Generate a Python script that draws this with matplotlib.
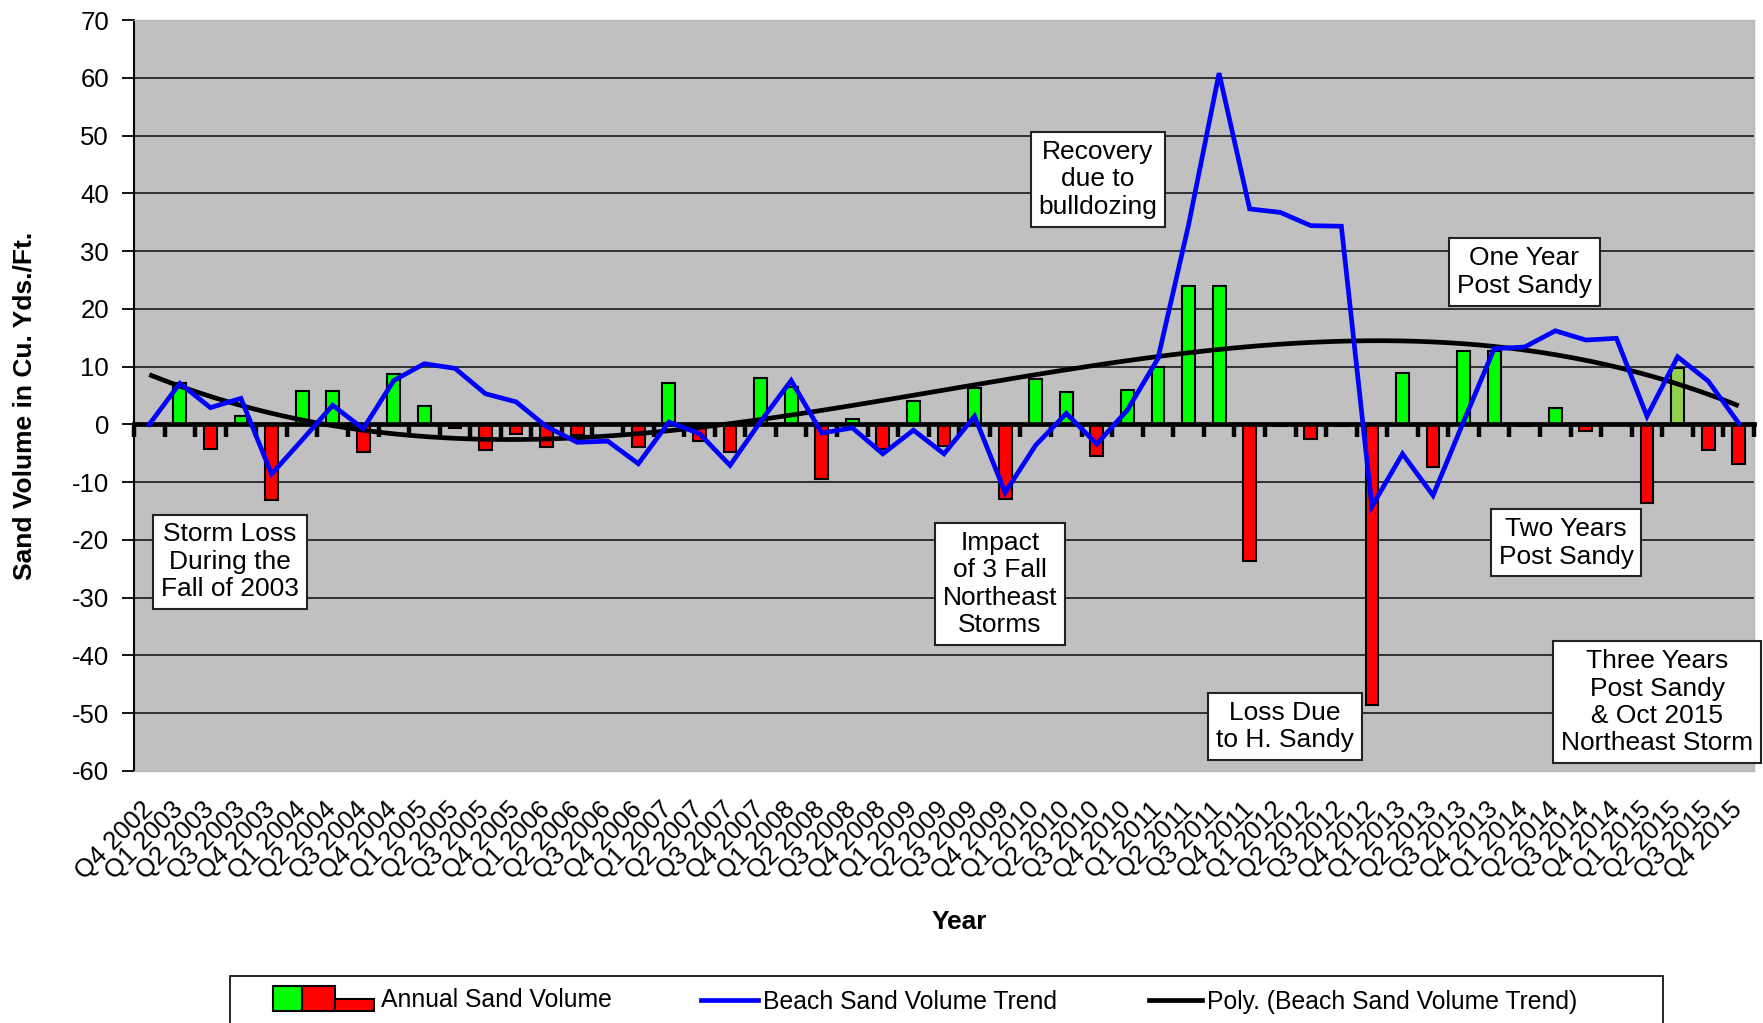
import matplotlib
matplotlib.use('Agg')
import matplotlib.pyplot as plt
import numpy as np
from matplotlib.patches import Rectangle
from matplotlib.lines import Line2D
from matplotlib.legend_handler import HandlerBase

plt.rcParams['font.family'] = ['Liberation Sans', 'DejaVu Sans']

# ---------------- data ----------------
quarters = ['Q4 2002'] + [f'Q{q} {y}' for y in range(2003, 2016) for q in range(1, 5)]

annual_sand_volume = [0, 7.2, -4.2, 1.4, -13.1, 5.8, 5.8, -4.7, 8.7, 3.1,
                      -0.6, -4.5, -1.6, -4.0, -1.9, 0, -3.9, 7.1, -2.9, -4.8,
                      8.0, 6.5, -9.4, 1.0, -4.2, 4.1, -3.8, 6.3, -12.9, 7.8,
                      5.6, -5.4, 5.9, 10.0, 24.0, 24.0, -23.6, -0.3, -2.5, -0.3,
                      -48.5, 8.9, -7.3, 12.7, 12.7, -0.3, 2.9, -1.2, 0, -13.6,
                      9.8, -4.5, -6.8]

beach_sand_volume_trend = [0, 7.1, 2.9, 4.5, -8.6, -2.7, 3.3, -0.75, 7.6, 10.5,
                           9.7, 5.3, 3.9, -0.4, -3.1, -2.9, -6.8, 0.4, -1.6, -7.1,
                           0.5, 7.6, -1.5, -0.6, -5.1, -1.0, -5.1, 1.4, -11.8, -3.6,
                           1.9, -3.4, 2.5, 11.4, 34.5, 60.8, 37.3, 36.7, 34.4, 34.3,
                           -14.2, -5.1, -12.3, 0.5, 13.1, 13.4, 16.2, 14.6, 14.9, 1.4,
                           11.7, 7.5, 0.2]

highlight_quarter = 'Q2 2015'
poly_order = 3

y_ticks = list(range(-60, 71, 10))

annotations = [
    ('Storm Loss\nDuring the\nFall of 2003', 2.64, -23.8),
    ('Recovery\ndue to\nbulldozing', 31.04, 42.4),
    ('One Year\nPost Sandy', 44.98, 26.4),
    ('Impact\nof 3 Fall\nNortheast\nStorms', 27.83, -27.6),
    ('Loss Due\nto H. Sandy', 37.16, -52.3),
    ('Two Years\nPost Sandy', 46.35, -20.5),
    ('Three Years\nPost Sandy\n& Oct 2015\nNortheast Storm', 49.33, -48.1),
]

# ---------------- figure ----------------
W, H = 1763, 1023
fig = plt.figure(figsize=(W / 100, H / 100), dpi=100)
ax = fig.add_axes([134 / W, 1 - 771 / H, 1620 / W, 751 / H])
ax.set_facecolor('#C0C0C0')

x = np.arange(len(quarters))
GREEN, RED, LGREEN = '#00FF00', '#FF0000', '#92D050'
colors = [GREEN if v >= 0 else RED for v in annual_sand_volume]
colors[quarters.index(highlight_quarter)] = LGREEN

ax.bar(x, annual_sand_volume, width=0.42, color=colors, edgecolor='black',
       linewidth=1.5, zorder=2)

coef = np.polyfit(x, beach_sand_volume_trend, poly_order)
xf = np.linspace(0, len(quarters) - 1, 300)
ax.plot(xf, np.polyval(coef, xf), color='black', lw=3.4, zorder=3,
        solid_capstyle='butt')
ax.plot(x, beach_sand_volume_trend, color='#0000FF', lw=3.4, zorder=4,
        solid_joinstyle='miter')

ymin, ymax = -60, 70
ax.set_xlim(-0.5, len(quarters) - 0.5)
ax.set_ylim(ymin, ymax)
ax.set_yticks(y_ticks)
ax.set_yticklabels([str(t) for t in y_ticks], fontsize=18.5)
ax.tick_params(axis='y', direction='out', length=9, width=1.3, pad=9,
               colors='black')

ax.set_xticks(x)
ax.set_xticklabels(quarters, rotation=45, ha='right', va='center',
                   rotation_mode='anchor', fontsize=18.5)
ax.tick_params(axis='x', length=0, pad=25)

ax.set_axisbelow(True)
ax.yaxis.grid(True, color='#303030', lw=1.4)
ticks = ax.yaxis.get_major_ticks()
ticks[0].gridline.set_visible(False)
ticks[-1].gridline.set_visible(False)

for s in ['top', 'right', 'bottom']:
    ax.spines[s].set_color('#B8B8B8')
    ax.spines[s].set_linewidth(1.0)
ax.spines['left'].set_color('black')
ax.spines['left'].set_linewidth(1.5)

# zero category axis with tick marks at category boundaries
sec = ax.secondary_xaxis((0 - ymin) / (ymax - ymin))
sec.set_xticks(np.arange(-0.5, len(quarters), 1.0))
sec.tick_params(axis='x', direction='out', length=9, width=3.2,
                colors='black', labelbottom=False, labeltop=False,
                bottom=True, top=False)
for s in sec.spines.values():
    s.set_linewidth(3.4)
    s.set_color('black')
sec.set_zorder(2.5)

for text, tx, ty in annotations:
    ax.text(tx, ty, text, ha='center', va='center', fontsize=19,
            linespacing=1.18, zorder=6, clip_on=False,
            bbox=dict(boxstyle='square,pad=0.3', fc='white', ec='#222222',
                      lw=1.5))

fig.text(25 / W, 1 - 406 / H, 'Sand Volume in Cu. Yds./Ft.', rotation=90,
         ha='center', va='center', fontsize=19, fontweight='bold')
fig.text(959 / W, 1 - 922 / H, 'Year', ha='center', va='center',
         fontsize=19, fontweight='bold')


# ---------------- legend ----------------
class AnnualHandler(HandlerBase):
    def create_artists(self, legend, orig_handle, xdescent, ydescent, width,
                       height, fontsize, trans):
        x0, y0 = -xdescent, -ydescent
        w, h = width, height
        r1 = Rectangle((x0, y0), 0.29 * w, h, fc=GREEN, ec='black', lw=1.5,
                       transform=trans)
        r2 = Rectangle((x0 + 0.29 * w, y0), 0.32 * w, h, fc=RED, ec='black',
                       lw=1.5, transform=trans)
        r3 = Rectangle((x0 + 0.61 * w, y0), 0.39 * w, 0.47 * h, fc=RED,
                       ec='black', lw=1.5, transform=trans)
        return [r1, r2, r3]


LFS = 17.8
proxy = Rectangle((0, 0), 1, 1)
fig.legend([proxy], ['Annual Sand Volume'], handler_map={proxy: AnnualHandler()},
           loc='center left', bbox_to_anchor=(273 / W, 1 - 999 / H),
           frameon=False, borderpad=0, borderaxespad=0, handletextpad=0.25,
           fontsize=LFS, handlelength=4.1, handleheight=1.2)
fig.legend([Line2D([], [], color='#0000FF', lw=3.4)], ['Beach Sand Volume Trend'],
           loc='center left', bbox_to_anchor=(701 / W, 1 - 1002 / H),
           frameon=False, borderpad=0, borderaxespad=0, handletextpad=0.2,
           fontsize=LFS, handlelength=2.3)
fig.legend([Line2D([], [], color='black', lw=3.4)],
           ['Poly. (Beach Sand Volume Trend)'],
           loc='center left', bbox_to_anchor=(1149 / W, 1 - 1002 / H),
           frameon=False, borderpad=0, borderaxespad=0, handletextpad=0.2,
           fontsize=LFS, handlelength=2.15)
fig.add_artist(Rectangle((230 / W, -0.05), (1663 - 230) / W,
                         0.05 + (H - 976) / H, transform=fig.transFigure,
                         fill=False, ec='black', lw=1.2))

fig.savefig('out.png', dpi=100)
